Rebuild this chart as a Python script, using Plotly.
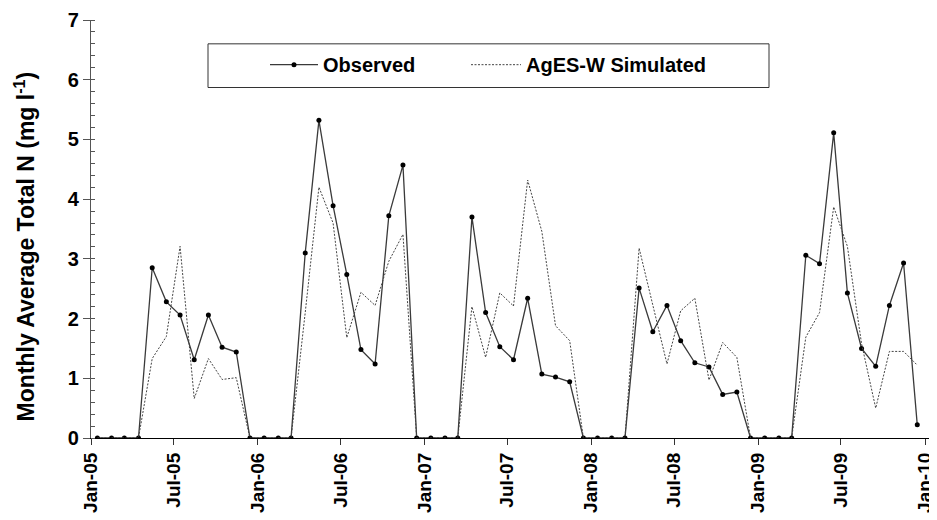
import pandas as pd
import plotly.graph_objects as go

# monthly values, Jan-2005 .. Dec-2009 (plotted at mid-month)
months = pd.date_range("2005-01-01", periods=60, freq="MS") + pd.Timedelta(days=14)

observed = [
    0, 0, 0, 0, 2.85, 2.28, 2.06, 1.31, 2.06, 1.52, 1.44, 0,
    0, 0, 0, 3.10, 5.32, 3.89, 2.74, 1.48, 1.24, 3.72, 4.57, 0,
    0, 0, 0, 3.70, 2.10, 1.53, 1.31, 2.34, 1.07, 1.02, 0.94, 0,
    0, 0, 0, 2.51, 1.78, 2.22, 1.63, 1.26, 1.19, 0.73, 0.77, 0,
    0, 0, 0, 3.06, 2.92, 5.11, 2.43, 1.50, 1.20, 2.22, 2.93, 0.22,
]
simulated = [
    0, 0, 0, 0, 1.33, 1.70, 3.21, 0.66, 1.33, 0.98, 1.01, 0,
    0, 0, 0, 2.10, 4.20, 3.60, 1.68, 2.44, 2.22, 2.96, 3.41, 0,
    0, 0, 0, 2.20, 1.35, 2.43, 2.21, 4.32, 3.46, 1.88, 1.63, 0,
    0, 0, 0, 3.18, 2.22, 1.24, 2.13, 2.34, 0.97, 1.60, 1.35, 0,
    0, 0, 0, 1.69, 2.10, 3.87, 3.21, 1.58, 0.50, 1.45, 1.45, 1.22,
]

FONT = "Liberation Sans, Arial, sans-serif"

# the page body has an 8px margin, so the figure is shrunk by that much
OFF = 8
# plot area in page pixels
L, R, T, B = 91, 936, 17, 438
W, H = R - L, B - T


def px_x(p):
    return (p - L) / W


def px_y(p):
    return (B - p) / H


fig = go.Figure()
fig.add_trace(go.Scatter(
    x=months, y=observed, name="Observed", mode="lines+markers",
    line=dict(color="#3a3a3a", width=1.3),
    marker=dict(color="black", size=5),
    legend="legend",
))
fig.add_trace(go.Scatter(
    x=months, y=simulated, name="AgES-W Simulated", mode="lines",
    line=dict(color="#444444", width=1, dash="2px,1.5px"),
    legend="legend2",
))

# legend frame
fig.add_shape(type="rect", xref="paper", yref="paper",
              x0=px_x(208), x1=px_x(769), y0=px_y(85), y1=px_y(41),
              line=dict(color="#333333", width=1), fillcolor="white", layer="below")

fig.add_annotation(
    text="Monthly Average Total N (mg l<sup>-1</sup>)",
    xref="paper", yref="paper", x=px_x(25), y=px_y(245),
    xanchor="center", yanchor="middle",
    textangle=-90, showarrow=False,
    font=dict(family=FONT, size=23, color="black", weight="bold"),
)

legend_font = dict(family=FONT, size=20, color="black", weight="bold")
fig.update_layout(
    width=937 - OFF, height=520 - OFF,
    margin=dict(l=L - OFF, r=937 - R, t=T - OFF, b=520 - B),
    paper_bgcolor="white", plot_bgcolor="white",
    font=dict(family=FONT, color="black"),
    showlegend=True,
    legend=dict(
        orientation="h", x=px_x(265), y=px_y(62), xanchor="left", yanchor="middle",
        bgcolor="rgba(0,0,0,0)", borderwidth=0, itemwidth=48, font=legend_font,
    ),
    legend2=dict(
        orientation="h", x=px_x(466), y=px_y(62), xanchor="left", yanchor="middle",
        bgcolor="rgba(0,0,0,0)", borderwidth=0, itemwidth=50, font=legend_font,
    ),
    xaxis=dict(
        type="date", range=["2005-01-01", "2010-01-25"],
        tick0="2005-01-01", dtick="M6", tickformat="%b-%y",
        tickangle=-90, ticks="outside", ticklen=6, tickcolor="#333",
        showline=True, linecolor="black", linewidth=1.3,
        showgrid=False, zeroline=False, ticklabeloverflow="allow",
        tickfont=dict(family=FONT, size=19, color="black", weight="bold"),
    ),
    yaxis=dict(
        range=[0, 7], dtick=1, ticks="outside", ticklen=7, tickcolor="#555",
        showline=True, linecolor="#555", linewidth=1.3,
        showgrid=False, zeroline=False, ticklabeloverflow="allow",
        minor=dict(dtick=0.2, ticks="inside", ticklen=4, tickcolor="#555", showgrid=False),
        tickfont=dict(family=FONT, size=20, color="black", weight="bold"),
    ),
)

fig.write_html("out.html")
